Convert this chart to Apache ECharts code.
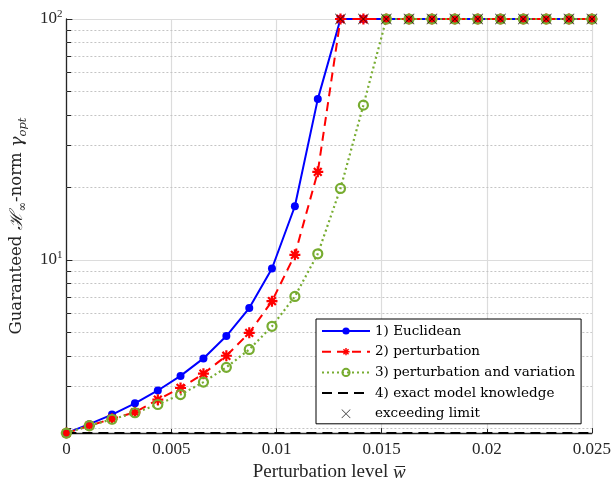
<!DOCTYPE html>
<html>
<head>
<meta charset="utf-8">
<script src="https://cdn.jsdelivr.net/npm/echarts@6/dist/echarts.min.js"></script>
<style>
  html, body { margin: 0; padding: 0; background: #fff; }
  #main { width: 614px; height: 487px; }
</style>
</head>
<body>
<div id="main"></div>
<script>
// perturbation levels (x)
var wLevels = [0, 0.00109, 0.00217, 0.00326, 0.00435, 0.00543, 0.00652, 0.00761, 0.0087, 0.00978,
    0.01087, 0.01196, 0.01304, 0.01413, 0.01522, 0.0163, 0.01739, 0.01848, 0.01957, 0.02065,
    0.02174, 0.02283, 0.02391, 0.025];
var euclidean = [1.91, 2.08, 2.28, 2.54, 2.87, 3.30, 3.90, 4.83, 6.31, 9.21, 16.7, 46.5,
    100, 100, 100, 100, 100, 100, 100, 100, 100, 100, 100, 100];
var perturbation = [1.91, 2.05, 2.19, 2.33, 2.63, 2.94, 3.37, 4.00, 4.98, 6.74, 10.5, 23.2,
    100, 100, 100, 100, 100, 100, 100, 100, 100, 100, 100, 100];
var pertVariation = [1.91, 2.05, 2.18, 2.32, 2.51, 2.76, 3.11, 3.58, 4.25, 5.30, 7.05, 10.6,
    19.8, 43.9, 100, 100, 100, 100, 100, 100, 100, 100, 100, 100];
var exactX = [0, 0.025];
var exactY = [1.91, 1.91];
var gammaLimit = 100;
var yMin = 1.91;
var minorGrid = [2, 3, 4, 5, 6, 7, 8, 9, 20, 30, 40, 50, 60, 70, 80, 90];

var FONT = '"Liberation Serif", "DejaVu Serif", serif';
var WIDE = '"DejaVu Serif", serif';
var AX = '#262626';

function pairs(xs, ys) {
    return xs.map(function (x, i) { return [x, ys[i]]; });
}
var exceed = [];
wLevels.forEach(function (x, i) {
    if (euclidean[i] >= gammaLimit) exceed.push([x, gammaLimit]);
});

var starPath = 'path://M-1,-5L1,-5L1,5L-1,5Z M-5,-1L5,-1L5,1L-5,1Z ' +
    'M-2.83,-4.24L4.24,2.83L2.83,4.24L-4.24,-2.83Z M-4.24,2.83L2.83,-4.24L4.24,-2.83L-2.83,4.24Z';
var crossPath = 'path://M-4.7,-5.2L5.2,4.7L4.7,5.2L-5.2,-4.7Z M-5.2,4.7L4.7,-5.2L5.2,-4.7L-4.7,5.2Z';

var minorLines = minorGrid.map(function (v) { return { yAxis: v }; });
var minorTicks = minorGrid.map(function (v) {
    return [{ coord: [0, v] }, { coord: [0.00022, v] }];
});

var myChart = echarts.init(document.getElementById('main'));
var option = {
    backgroundColor: '#fff',
    animation: false,
    grid: { left: 64, right: 21, top: 19, bottom: 50 },
    xAxis: {
        type: 'value',
        min: 0, max: 0.025, interval: 0.005,
        name: '{t|Perturbation level }{w|w\u0305}',
        nameLocation: 'middle',
        nameGap: 25,
        nameTextStyle: {
            rich: {
                t: { fontFamily: FONT, fontSize: 19, color: AX },
                w: { fontFamily: FONT, fontSize: 19, fontStyle: 'italic', color: AX }
            }
        },
        axisLine: { lineStyle: { color: AX, width: 1.3 } },
        axisTick: { inside: true, length: 5, lineStyle: { color: AX } },
        axisLabel: {
            fontFamily: FONT, fontSize: 17, color: AX, margin: 8,
            formatter: function (v) { return String(+v.toFixed(4)); }
        },
        splitLine: { show: true, lineStyle: { color: '#dcdcdc', width: 1.2 } }
    },
    yAxis: {
        type: 'log', logBase: 10,
        min: yMin, max: 100,
        name: '{t|Guaranteed }{h|\u210B}{s|\u221E}{t|-norm }{g|\u03B3}{s|opt}',
        nameLocation: 'middle',
        nameRotate: 90,
        nameGap: 37,
        nameTextStyle: {
            rich: {
                t: { fontFamily: WIDE, fontSize: 16.5, color: AX, lineHeight: 24 },
                h: { fontFamily: WIDE, fontSize: 17.5, fontStyle: 'italic', color: AX, lineHeight: 24 },
                g: { fontFamily: WIDE, fontSize: 17.5, fontStyle: 'italic', color: AX, lineHeight: 24 },
                s: { fontFamily: WIDE, fontSize: 11.5, fontStyle: 'italic', color: AX, lineHeight: 12, verticalAlign: 'bottom' }
            }
        },
        axisLine: { lineStyle: { color: AX, width: 1.3 } },
        axisTick: { inside: true, length: 6, lineStyle: { color: AX } },
        axisLabel: {
            margin: 4,
            formatter: function (v) {
                var e = Math.round(Math.log(v) / Math.LN10);
                if (Math.abs(Math.pow(10, e) - v) > 1e-6 * v) return '';
                return '{b|10}{p|' + e + '}';
            },
            rich: {
                b: { fontFamily: FONT, fontSize: 17, color: AX, lineHeight: 20 },
                p: { fontFamily: FONT, fontSize: 11, color: AX, lineHeight: 11, verticalAlign: 'top' }
            }
        },
        splitLine: { show: true, lineStyle: { color: '#dcdcdc', width: 1.2 } }
    },
    legend: {
        orient: 'vertical',
        left: 316, top: 319,
        backgroundColor: '#fff',
        borderColor: '#000',
        borderWidth: 1,
        padding: [5, 6, 3, 5],
        itemWidth: 48,
        itemHeight: 9,
        itemGap: 6.7,
        textStyle: { fontFamily: WIDE, fontSize: 13.5, color: '#000' },
        data: ['1) Euclidean', '2) perturbation', '3) perturbation and variation',
            { name: '4) exact model knowledge', itemStyle: { opacity: 0 } },
            'exceeding limit']
    },
    series: [
        {
            name: 'minor', type: 'line', data: [], silent: true,
            markLine: {
                z: 1, silent: true, symbol: 'none', animation: false,
                label: { show: false },
                lineStyle: { color: '#c4c4c4', type: [2, 2], width: 1 },
                data: minorLines
            }
        },
        {
            name: 'minorTicks', type: 'line', data: [], silent: true,
            markLine: {
                z: 3, silent: true, symbol: 'none', animation: false,
                label: { show: false },
                lineStyle: { color: AX, type: 'solid', width: 1 },
                data: minorTicks
            }
        },
        {
            name: '1) Euclidean', type: 'line', z: 3,
            data: pairs(wLevels, euclidean),
            symbol: 'circle', symbolSize: 8, showAllSymbol: true,
            lineStyle: { color: '#0000ff', width: 2 },
            itemStyle: { color: '#0000ff' }
        },
        {
            name: '2) perturbation', type: 'line', z: 3,
            data: pairs(wLevels, perturbation),
            symbol: starPath, symbolSize: 11, showAllSymbol: true,
            lineStyle: { color: '#ff0000', width: 2, type: [9, 6] },
            itemStyle: { color: '#ff0000' }
        },
        {
            name: '3) perturbation and variation', type: 'line', z: 3,
            data: pairs(wLevels, pertVariation),
            symbol: 'circle', symbolSize: 9, showAllSymbol: true,
            lineStyle: { color: '#77ac30', width: 2.2, type: [2, 3] },
            itemStyle: { color: 'rgba(255,255,255,0)', borderColor: '#77ac30', borderWidth: 2.2 }
        },
        {
            name: '4) exact model knowledge', type: 'line', z: 3,
            data: pairs(exactX, exactY),
            symbol: 'none',
            lineStyle: { color: '#000', width: 2, type: [10, 6] },
            itemStyle: { color: '#000' }
        },
        {
            name: 'exceeding limit', type: 'scatter', z: 4,
            data: exceed,
            symbol: crossPath, symbolSize: 11, symbolKeepAspect: true,
            itemStyle: { color: '#000' }
        }
    ]
};
myChart.setOption(option);
</script>
</body>
</html>
